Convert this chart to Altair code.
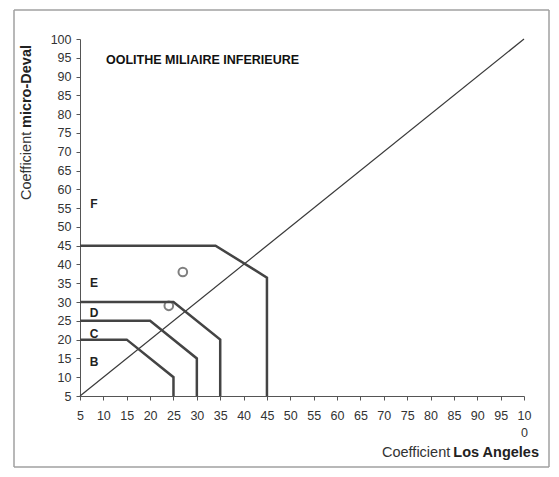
import altair as alt
import pandas as pd

# Class boundaries (Los Angeles x, micro-Deval y)
bound_names = ["BC", "BC", "BC", "BC",
               "CD", "CD", "CD", "CD",
               "DE", "DE", "DE", "DE",
               "EF", "EF", "EF", "EF"]
bound_x = [5, 15, 25, 25,
           5, 20, 30, 30,
           5, 25, 35, 35,
           5, 34, 45, 45]
bound_y = [20, 20, 10, 5,
           25, 25, 15, 5,
           30, 30, 20, 5,
           45, 45, 36.5, 5]

diag_x = [5, 100]
diag_y = [5, 100]

sample_x = [27, 24]
sample_y = [38, 29]

class_labels = ["F", "E", "D", "C", "B"]
class_x = [8, 8, 8, 8, 8]
class_y = [56, 35, 27, 21.5, 14]

ticks = list(range(5, 101, 5))

FONT = "Liberation Sans"
DARK = "#3a3a3a"

bounds = pd.DataFrame({"g": bound_names, "x": bound_x, "y": bound_y,
                       "o": list(range(len(bound_x)))})
diag = pd.DataFrame({"x": diag_x, "y": diag_y})
samples = pd.DataFrame({"x": sample_x, "y": sample_y})
labels = pd.DataFrame({"t": class_labels, "x": class_x, "y": class_y})
one = pd.DataFrame({"a": [0]})

xscale = alt.Scale(domain=[5, 100], nice=False, zero=False)
yscale = alt.Scale(domain=[5, 100], nice=False, zero=False)

xaxis = alt.Axis(values=ticks, tickCount=20, title=None, grid=False, labelFont=FONT,
                 labelFontSize=12.5, labelColor="#333", domainColor="#555", tickColor="#555",
                 tickSize=4, labelPadding=9, labelFlush=False, labelOverlap=False,
                 labelExpr="datum.value == 100 ? ['10', '0'] : datum.label",
                 labelLineHeight=17)
yaxis = alt.Axis(values=ticks, tickCount=20, title=None, grid=False, labelFont=FONT,
                 labelFontSize=12.5, labelColor="#333", domainColor="#555", tickColor="#555",
                 tickSize=4, labelPadding=5, labelFlush=False, labelOverlap=False)

FR = "#a0a0a0"
frame_top = alt.Chart(one).mark_rule(color=FR, strokeWidth=1.5).encode(
    x=alt.value(-66), x2=alt.value(469), y=alt.value(-29))
frame_bottom = alt.Chart(one).mark_rule(color=FR, strokeWidth=1.5).encode(
    x=alt.value(-66), x2=alt.value(469), y=alt.value(428))
frame_left = alt.Chart(one).mark_rule(color=FR, strokeWidth=1.5).encode(
    x=alt.value(-66), y=alt.value(-29), y2=alt.value(428))
frame_right = alt.Chart(one).mark_rule(color=FR, strokeWidth=1.5).encode(
    x=alt.value(469), y=alt.value(-29), y2=alt.value(428))

diag_line = alt.Chart(diag).mark_line(color=DARK, strokeWidth=1.2).encode(
    x=alt.X("x:Q", scale=xscale, axis=xaxis),
    y=alt.Y("y:Q", scale=yscale, axis=yaxis))

bound_lines = alt.Chart(bounds).mark_line(color="#444", strokeWidth=2.5).encode(
    x=alt.X("x:Q", scale=xscale, axis=xaxis),
    y=alt.Y("y:Q", scale=yscale, axis=yaxis),
    detail="g:N", order="o:Q")

pts = alt.Chart(samples).mark_point(shape="circle", size=75, filled=False,
                                    stroke="#4a4a4a", strokeWidth=2).encode(
    x=alt.X("x:Q", scale=xscale, axis=xaxis), y=alt.Y("y:Q", scale=yscale, axis=yaxis))

cls = alt.Chart(labels).mark_text(font=FONT, fontSize=12, fontWeight="bold",
                                  color="#222", align="center", baseline="middle").encode(
    x=alt.X("x:Q", scale=xscale, axis=xaxis), y=alt.Y("y:Q", scale=yscale, axis=yaxis),
    text="t:N")

title = alt.Chart(one).mark_text(text="OOLITHE MILIAIRE INFERIEURE", font=FONT,
                                 fontSize=12.5, fontWeight="bold", color="#111",
                                 align="left", baseline="middle").encode(
    x=alt.value(26), y=alt.value(21))

ytitle1 = alt.Chart(one).mark_text(text="Coefficient", font=FONT, fontSize=14.5,
                                   color="#333", angle=270, align="left",
                                   baseline="middle").encode(
    x=alt.value(-53), y=alt.value(161))
ytitle2 = alt.Chart(one).mark_text(text="micro-Deval", font=FONT, fontSize=14.5,
                                   fontWeight="bold", color="#222", angle=270,
                                   align="right", baseline="middle").encode(
    x=alt.value(-53), y=alt.value(6))

xtitle1 = alt.Chart(one).mark_text(text="Coefficient", font=FONT, fontSize=14.5,
                                   color="#333", align="left", baseline="middle").encode(
    x=alt.value(302), y=alt.value(414))
xtitle2 = alt.Chart(one).mark_text(text="Los Angeles", font=FONT, fontSize=14.5,
                                   fontWeight="bold", color="#222", align="right",
                                   baseline="middle").encode(
    x=alt.value(459), y=alt.value(414))

chart = alt.layer(diag_line, bound_lines, pts, cls, title, ytitle1, ytitle2,
                  xtitle1, xtitle2, frame_top, frame_bottom, frame_left,
                  frame_right).properties(
    width=444, height=357,
    autosize=alt.AutoSizeParams(type="none"),
    padding={"left": 72, "top": 31, "right": 27, "bottom": 73},
    background="white",
).configure_view(stroke=None)

chart.save("out.html", embed_options={"renderer": "svg", "actions": False})
